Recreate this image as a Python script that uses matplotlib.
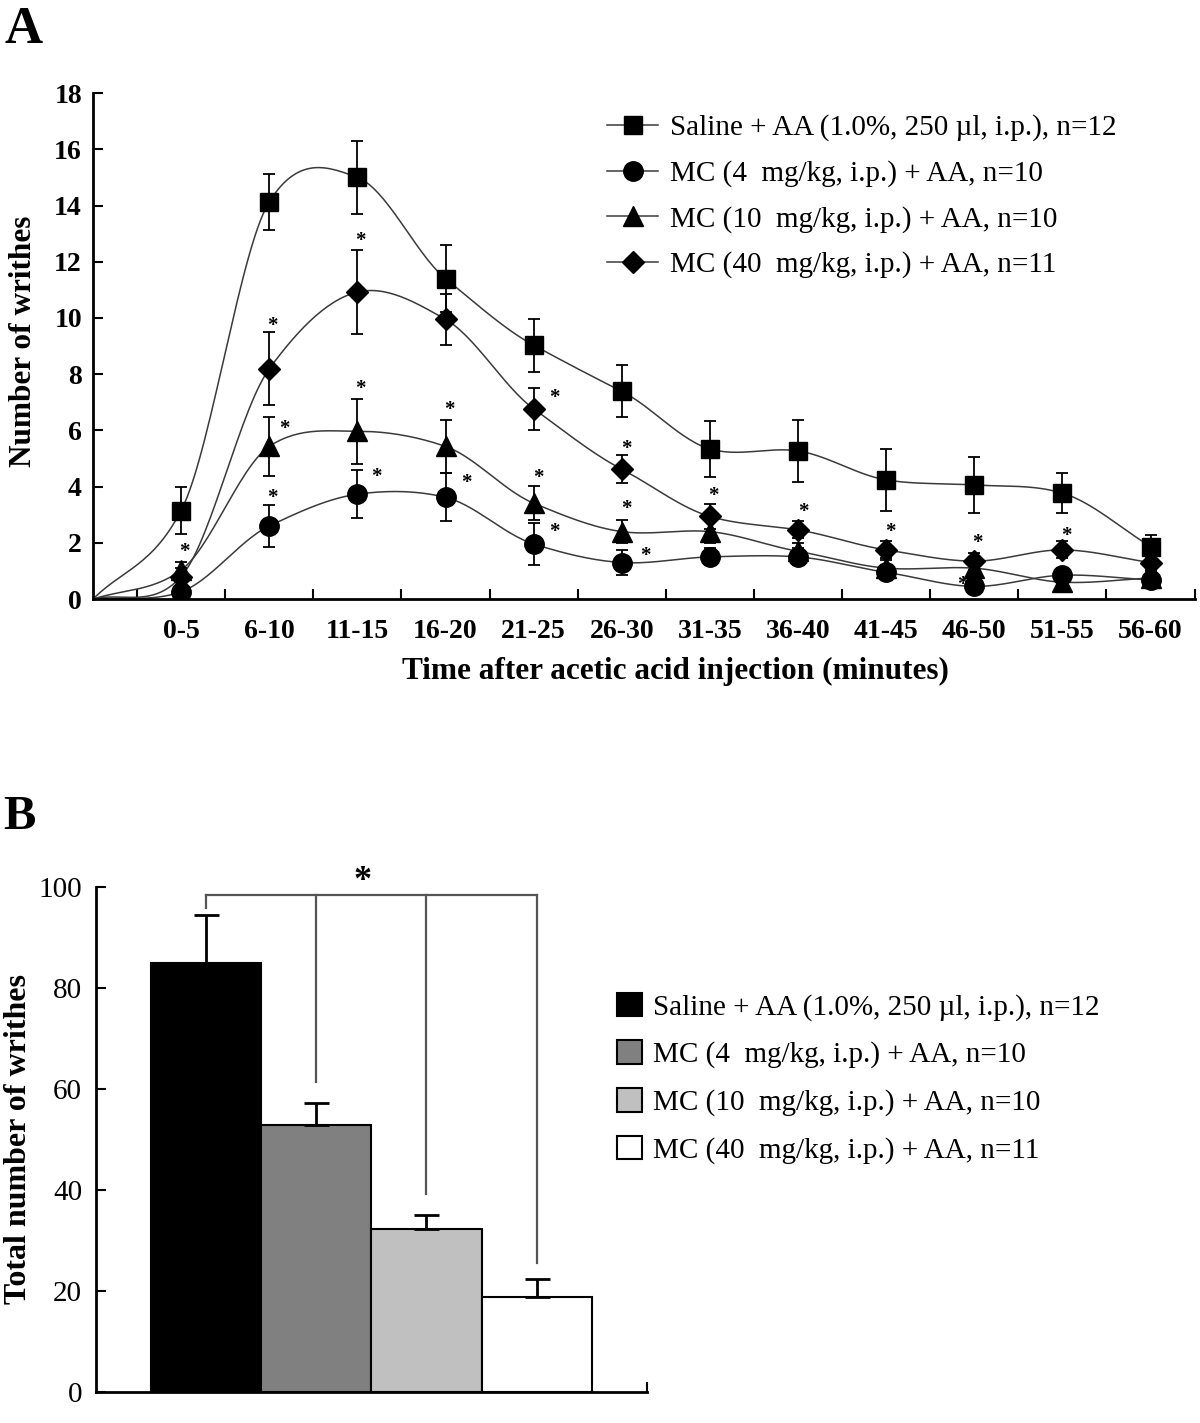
import numpy as np
import matplotlib
matplotlib.use('Agg')
import matplotlib.pyplot as plt
from matplotlib.patches import Patch
from matplotlib.lines import Line2D

plt.rcParams['font.family'] = ['Liberation Serif', 'DejaVu Serif']

# ---- panel A data (number of writhes per 5 min bin) ----
bins = ['0-5', '6-10', '11-15', '16-20', '21-25', '26-30',
        '31-35', '36-40', '41-45', '46-50', '51-55', '56-60']
saline = [3.15, 14.13, 15.0, 11.4, 9.03, 7.39, 5.34, 5.27, 4.24, 4.06, 3.77, 1.87]
saline_sem = [0.85, 1.0, 1.3, 1.2, 0.95, 0.92, 1.0, 1.1, 1.1, 1.0, 0.7, 0.4]
mc4 = [0.26, 2.6, 3.73, 3.62, 1.96, 1.3, 1.5, 1.5, 0.95, 0.45, 0.85, 0.68]
mc4_sem = [0.2, 0.75, 0.85, 0.85, 0.75, 0.46, 0.3, 0.3, 0.25, 0.25, 0.25, 0.25]
mc10 = [1.03, 5.43, 5.97, 5.43, 3.41, 2.4, 2.4, 1.7, 1.1, 1.1, 0.6, 0.75]
mc10_sem = [0.3, 1.05, 1.15, 0.95, 0.6, 0.4, 0.4, 0.3, 0.3, 0.3, 0.3, 0.3]
mc40 = [0.8, 8.19, 10.92, 9.95, 6.77, 4.62, 2.94, 2.46, 1.75, 1.35, 1.75, 1.3]
mc40_sem = [0.3, 1.3, 1.5, 0.9, 0.75, 0.5, 0.45, 0.3, 0.3, 0.3, 0.3, 0.3]

labels = ['Saline + AA (1.0%, 250 \u00b5l, i.p.), n=12',
          'MC (4  mg/kg, i.p.) + AA, n=10',
          'MC (10  mg/kg, i.p.) + AA, n=10',
          'MC (40  mg/kg, i.p.) + AA, n=11']

# significance marks in panel A (bin index, value)
stars_a = [(1.04, 1.93), (2.04, 9.97), (2.17, 6.3), (2.04, 3.85), (3.03, 13.0),
           (3.03, 7.73), (3.22, 4.6), (4.04, 6.98), (4.24, 4.38), (5.23, 7.41),
           (5.05, 4.57), (5.23, 2.64), (6.05, 5.59), (6.05, 3.45), (6.27, 1.77),
           (7.04, 3.92), (8.06, 3.35), (9.05, 2.64), (10.04, 2.26), (9.86, 0.76),
           (11.05, 2.48)]

# ---- panel B data (total writhes) ----
totals = [85.0, 52.8, 32.2, 18.9]
totals_sem = [9.4, 4.5, 2.9, 3.4]
bar_colors = ['black', '#808080', '#c0c0c0', 'white']
bracket_y = 98.5
bracket_ends = [95.8, 61.4, 39.2, 25.5]


def smooth(x, y, n=30, tension=0.85):
    # cubic hermite (catmull-rom) like the smoothed lines of the original
    x = np.asarray(x, float)
    y = np.asarray(y, float)
    m = np.zeros_like(y)
    m[1:-1] = tension * (y[2:] - y[:-2]) / (x[2:] - x[:-2])
    m[0] = (y[1] - y[0]) / (x[1] - x[0])
    m[-1] = (y[-1] - y[-2]) / (x[-1] - x[-2])
    xs, ys = [], []
    for i in range(len(x) - 1):
        h = x[i + 1] - x[i]
        t = np.linspace(0, 1, n, endpoint=False)
        h00 = 2 * t**3 - 3 * t**2 + 1
        h10 = t**3 - 2 * t**2 + t
        h01 = -2 * t**3 + 3 * t**2
        h11 = t**3 - t**2
        xs.append(x[i] + t * h)
        ys.append(h00 * y[i] + h10 * h * m[i] + h01 * y[i + 1] + h11 * h * m[i + 1])
    xs.append([x[-1]])
    ys.append([y[-1]])
    return np.concatenate(xs), np.concatenate(ys)


fig = plt.figure(figsize=(12, 14.23), dpi=100)

# ================= panel A =================
axA = fig.add_axes([0.0775, 0.579, 0.918, 0.3556])
xpos = np.arange(1, len(bins) + 1)
series = [(saline, saline_sem, 's', 13), (mc4, mc4_sem, 'o', 14),
          (mc10, mc10_sem, '^', 15), (mc40, mc40_sem, 'D', 11)]
handles = []
for (vals, sem, mk, ms), lab in zip(series, labels):
    sx, sy = smooth(np.r_[0, xpos], np.r_[0, vals])
    axA.plot(sx, sy, color='#3a3a3a', lw=1.1, zorder=2)
    axA.errorbar(xpos, vals, yerr=sem, fmt='none', ecolor='black', elinewidth=1.3,
                 capsize=4, capthick=1.3, zorder=3)
    axA.plot(xpos, vals, linestyle='none', marker=mk, markersize=ms, color='black', zorder=4)
    handles.append(Line2D([], [], color='#3a3a3a', lw=1.1, marker=mk, markersize=ms,
                          markerfacecolor='black', markeredgecolor='black'))

for sx_, sy_ in stars_a:
    axA.text(sx_, sy_ - 0.25, '*', ha='center', va='center', fontsize=15, fontweight='bold')

axA.set_xlim(0, 12.5)
axA.set_ylim(0, 18)
axA.set_yticks(range(0, 19, 2))
axA.set_xticks(np.arange(0.5, 13, 1))
axA.set_xticks(xpos, minor=True)
axA.set_xticklabels([])
axA.set_xticklabels(bins, minor=True)
axA.tick_params(axis='x', which='major', direction='in', length=7, width=1.5)
axA.tick_params(axis='x', which='minor', length=0, pad=14, labelsize=20)
axA.tick_params(axis='y', direction='in', length=7, width=1.5, pad=8, labelsize=20)
for t in axA.get_xticklabels(minor=True) + axA.get_yticklabels():
    t.set_fontweight('bold')
for s in ['top', 'right']:
    axA.spines[s].set_visible(False)
for s in ['left', 'bottom']:
    axA.spines[s].set_linewidth(2)

axA.set_ylabel('Number of writhes', fontsize=22.5, fontweight='bold')
axA.yaxis.set_label_coords(-0.05, 0.51)
axA.set_xlabel('Time after acetic acid injection (minutes)', fontsize=22.5, fontweight='bold')
axA.xaxis.set_label_coords(0.529, -0.115)

fig.legend(handles, labels, loc='upper left', bbox_to_anchor=(0.506, 0.9195),
           frameon=False, fontsize=21, handlelength=1.75, handletextpad=0.4,
           labelspacing=0.64, borderpad=0, borderaxespad=0)

fig.text(0.004, 0.996, 'A', fontsize=38, fontweight='bold', ha='left', va='top')

# ================= panel B =================
axB = fig.add_axes([0.08, 0.0218, 0.459, 0.3549])
bx = np.arange(len(totals))
axB.bar(bx, totals, width=1.0, color=bar_colors, edgecolor='black', linewidth=1.5, zorder=2)
axB.errorbar(bx, totals, yerr=[[0] * len(totals), totals_sem], fmt='none', ecolor='black',
             elinewidth=2, capsize=9, capthick=2, zorder=3)

axB.plot([bx[0], bx[-1]], [bracket_y, bracket_y], color='#555555', lw=1.6, clip_on=False)
for xb, yb in zip(bx, bracket_ends):
    axB.plot([xb, xb], [bracket_y, yb], color='#555555', lw=1.6, clip_on=False)
axB.text(1.42, 101.0, '*', ha='center', va='center', fontsize=26, fontweight='bold',
         clip_on=False)

axB.set_xlim(-1, 4)
axB.set_ylim(0, 100)
axB.set_yticks(range(0, 101, 20))
axB.set_xticks([4])
axB.set_xticklabels([])
axB.tick_params(axis='x', direction='in', length=7, width=1.5)
axB.tick_params(axis='y', direction='in', length=7, width=1.5, pad=10, labelsize=21)
for s in ['top', 'right']:
    axB.spines[s].set_visible(False)
for s in ['left', 'bottom']:
    axB.spines[s].set_linewidth(2)
axB.set_ylabel('Total number of writhes', fontsize=23, fontweight='bold')
axB.yaxis.set_label_coords(-0.114, 0.5)

patches = [Patch(facecolor=c, edgecolor='black', linewidth=1.5) for c in bar_colors]
fig.legend(patches, labels, loc='upper left', bbox_to_anchor=(0.514, 0.3025),
           frameon=False, fontsize=21, handlelength=0.85, handleheight=0.85,
           handletextpad=0.4, labelspacing=0.68, borderpad=0, borderaxespad=0)

fig.text(0.003, 0.441, 'B', fontsize=35, fontweight='bold', ha='left', va='top')

fig.savefig('out.png', dpi=100, facecolor='white')
